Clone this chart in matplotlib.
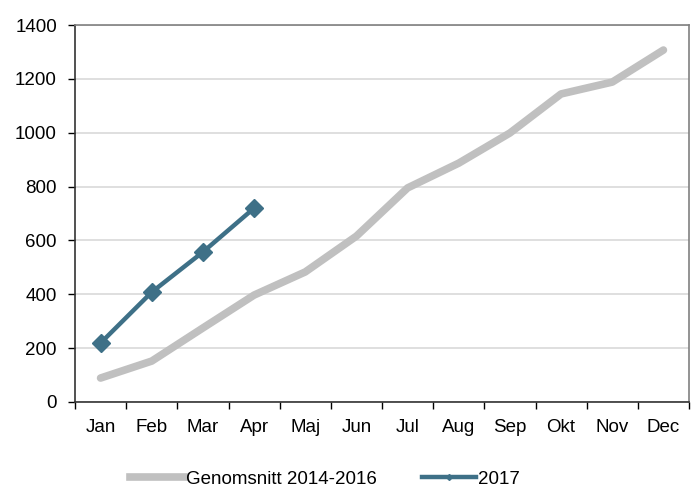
import matplotlib; matplotlib.use("Agg")
import matplotlib.pyplot as plt
from matplotlib.lines import Line2D

months = ["Jan", "Feb", "Mar", "Apr", "Maj", "Jun", "Jul", "Aug", "Sep", "Okt", "Nov", "Dec"]
avg_1416 = [89, 152, 275, 397, 483, 616, 795, 887, 999, 1144, 1188, 1307]
y2017 = [219, 408, 557, 720]

GRAY = "#c0c0c0"; BLUE = "#3e7087"
plt.rcParams["font.family"] = ["Liberation Sans", "DejaVu Sans"]
FS = 13.5

fig = plt.figure(figsize=(6.99, 4.9), dpi=100)
ax = fig.add_axes([75/699, 1-402/490, 614/699, 377/490])
xs = range(len(months))
ax.plot(xs, avg_1416, color=GRAY, lw=5.5, solid_capstyle="round", solid_joinstyle="round", zorder=3)
ax.plot(range(len(y2017)), y2017, color=BLUE, lw=3.2, marker="D", ms=9, zorder=4)

ax.set_xlim(-0.5, len(months)-0.5); ax.set_ylim(0, 1400)
ax.set_yticks(range(0, 1401, 200))
ax.set_xticks(range(len(months))); ax.set_xticklabels(months)
ax.set_xticks([i-0.5 for i in range(len(months)+1)], minor=True)
ax.tick_params(axis="x", which="major", length=0, labelsize=FS, pad=12)
ax.tick_params(axis="x", which="minor", length=5, direction="out", width=1)
ax.tick_params(axis="y", length=5, direction="out", labelsize=FS, width=1, pad=8)
ax.grid(axis="y", color="#d9d9d9", lw=1.2)
ax.set_axisbelow(True)
for s in ["left", "bottom"]: ax.spines[s].set_color("#333333"); ax.spines[s].set_linewidth(1.2)
for s in ["top", "right"]: ax.spines[s].set_color("#808080"); ax.spines[s].set_linewidth(1.2)

handles = [Line2D([], [], color=GRAY, lw=5.5),
           Line2D([], [], color=BLUE, lw=3.2, marker="D", ms=3)]
fig.legend(handles, ["Genomsnitt 2014-2016", "2017"], loc="lower center",
           bbox_to_anchor=(0.465, -0.03), ncol=2, frameon=False, fontsize=FS,
           handlelength=2.9, handletextpad=0.1, columnspacing=2.4)
fig.savefig("out.png", dpi=100)
